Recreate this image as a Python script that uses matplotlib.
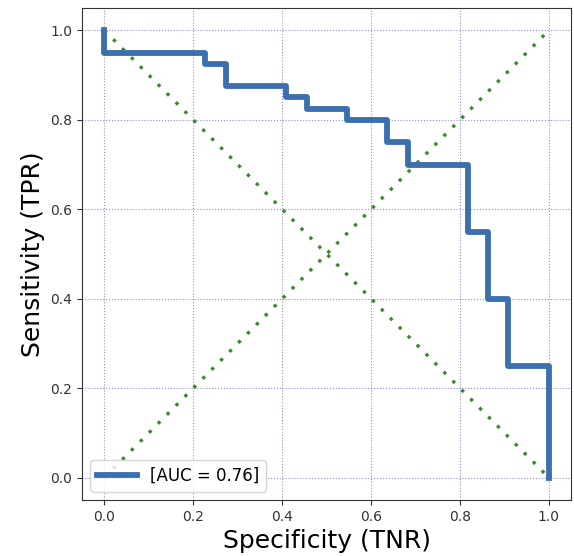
import matplotlib
matplotlib.use('Agg')
import matplotlib.pyplot as plt
import numpy as np

# ROC curve points (specificity, sensitivity)
specificity = [0.0, 0.0, 0.227, 0.227, 0.273, 0.273, 0.409, 0.409, 0.455, 0.455,
               0.545, 0.545, 0.636, 0.636, 0.682, 0.682, 0.818, 0.818, 0.864, 0.864,
               0.909, 0.909, 1.0, 1.0]
sensitivity = [1.0, 0.95, 0.95, 0.925, 0.925, 0.875, 0.875, 0.85, 0.85, 0.825,
               0.825, 0.8, 0.8, 0.75, 0.75, 0.7, 0.7, 0.55, 0.55, 0.4,
               0.4, 0.25, 0.25, 0.0]
auc_label = '[AUC = 0.76]'
ticks = [0.0, 0.2, 0.4, 0.6, 0.8, 1.0]

fig = plt.figure(figsize=(5.74, 5.56), dpi=100, facecolor='w')
ax = fig.add_axes([0.143, 0.1007, 0.852, 0.885])

# diagonals
for yy in ([0, 1], [1, 0]):
    ax.plot([0, 1], yy, linestyle=(0, (1, 2.8)), color='#3a8a2a', linewidth=2.4)

# roc curve
ax.plot(specificity, sensitivity, color='#3c6fb0', linewidth=4.2, label=auc_label)

ax.set_xticks(ticks)
ax.set_yticks(ticks)
ax.grid(True, color='#4444cc', linestyle=':', linewidth=0.8, alpha=0.6)
ax.set_xlabel('Specificity (TNR)', fontsize=18)
ax.set_ylabel('Sensitivity (TPR)', fontsize=18)
ax.tick_params(labelsize=10, colors='#333333')
for s in ax.spines.values():
    s.set_color('#333333')
ax.legend(loc='lower left', fontsize=12, handlelength=2.4)

plt.savefig('out.png', dpi=100)
plt.close(fig)
